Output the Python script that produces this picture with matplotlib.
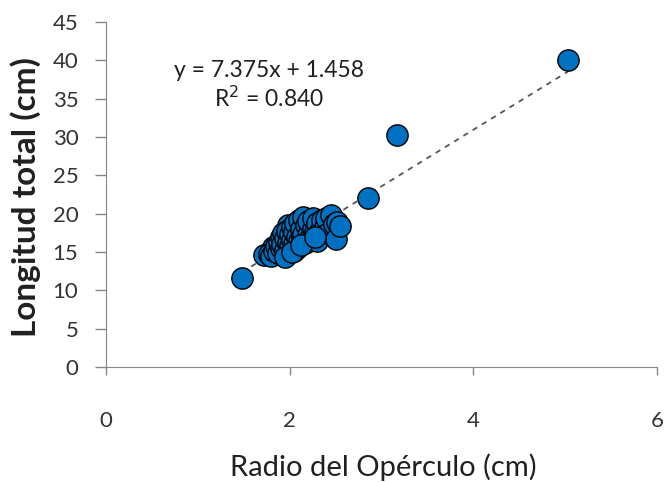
import matplotlib
matplotlib.use("Agg")
import matplotlib.pyplot as plt
import numpy as np

# Data
cluster_x = [1.82,1.90,1.98,2.05,
             1.72,1.78,1.80,1.83,1.85,1.87,1.88,1.90,1.90,1.92,1.93,1.95,1.95,1.97,1.98,
             2.00,2.00,2.02,2.03,2.05,2.05,2.06,2.08,2.08,2.10,2.10,2.12,2.13,2.15,2.15,
             2.17,2.18,2.20,2.20,2.22,2.25,2.25,2.28,2.30,2.30,2.33,2.35,2.38,2.40,2.42,
             2.45,2.48,2.50,2.52,2.55,1.95,2.02,2.12,2.28]
cluster_y = [15.6,16.6,18.5,15.2,
             14.6,14.8,14.5,15.2,15.8,14.9,16.3,15.5,17.0,16.0,17.5,15.3,16.8,17.8,16.2,
             15.8,17.3,18.3,16.6,16.0,17.6,18.8,15.5,17.0,16.4,19.2,18.0,16.9,17.4,19.6,
             16.2,18.5,17.2,19.0,16.8,18.0,19.4,17.6,16.5,18.8,17.8,19.2,18.3,19.5,17.5,
             19.8,18.6,16.7,18.9,18.4,14.4,15.0,15.9,16.9]
outlier_x = [1.48, 2.85, 3.17, 5.03]
outlier_y = [11.6, 22.0, 30.3, 40.0]
slope = 7.375
intercept = 1.458
r2 = 0.840
x_ticks = [0, 2, 4, 6]
y_ticks = [0, 5, 10, 15, 20, 25, 30, 35, 40, 45]

plt.rcParams['font.family'] = ["Lato", 'DejaVu Sans']

fig = plt.figure(figsize=(6.67, 4.82), dpi=100)
ax = fig.add_axes([0.159, 0.2386, 0.826, 0.7154])

xs = cluster_x + outlier_x
ys = cluster_y + outlier_y
ax.scatter(xs, ys, s=235, c="#0070C0", edgecolors="black", linewidths=1.0, zorder=3)

lx = np.array([min(xs), max(xs)])
ax.plot(lx, slope * lx + intercept, linestyle=(0, (3, 3)), color="#555555", lw=1.3, zorder=2)

ax.set_xlim(0, 6)
ax.set_ylim(0, 45)
ax.set_xticks(x_ticks)
ax.set_yticks(y_ticks)
ax.tick_params(axis='both', colors="#868686", labelcolor="#333333", labelsize=16, length=8, width=1)
ax.tick_params(axis='x', pad=26, length=6)
ax.tick_params(axis='y', pad=12)
for s in ["top", "right"]:
    ax.spines[s].set_visible(False)
for s in ["left", "bottom"]:
    ax.spines[s].set_color("#868686")

ax.text(1.77, 38.7, f"y = {slope}x + {intercept}", ha="center", va="center", fontsize=16.5, color="#202020")
ax.text(1.77, 35.1, f"R$^2$ = {r2:.3f}", ha="center", va="center", fontsize=16.5, color="#202020")

fig.text(0.039, 1 - 197/482, "Longitud total (cm)", rotation=90, ha="center", va="center",
         fontsize=24, fontweight="bold", color="#202020")
fig.text(383/667, 1 - 467/482, "Radio del Opérculo (cm)", ha="center", va="center", fontsize=21, color="#202020")

fig.savefig("out.png", dpi=100)
